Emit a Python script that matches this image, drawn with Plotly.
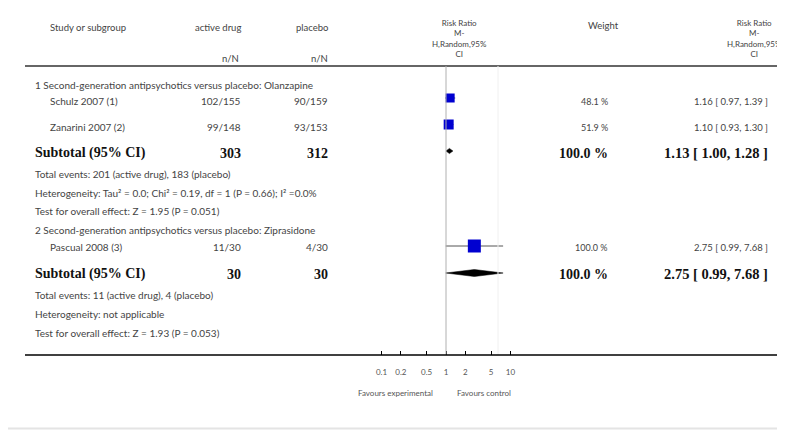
import plotly.graph_objects as go

# ---------------- data ----------------
group_titles = ["1 Second-generation antipsychotics versus placebo: Olanzapine",
                "2 Second-generation antipsychotics versus placebo: Ziprasidone"]
study_names = ["Schulz 2007 (1)", "Zanarini 2007 (2)", "Pascual 2008 (3)"]
active_events = [102, 99, 11]
active_total = [155, 148, 30]
placebo_events = [90, 93, 4]
placebo_total = [159, 153, 30]
study_rr = [1.16, 1.10, 2.75]
study_lo = [0.97, 0.93, 0.99]
study_hi = [1.39, 1.30, 7.68]
study_weight = [48.1, 51.9, 100.0]

sub_active_total = [303, 30]
sub_placebo_total = [312, 30]
sub_rr = [1.13, 2.75]
sub_lo = [1.00, 0.99]
sub_hi = [1.28, 7.68]
sub_weight = [100.0, 100.0]
sub_events_active = [201, 11]
sub_events_placebo = [183, 4]
heterogeneity = ["Heterogeneity: Tau\u00b2 = 0.0; Chi\u00b2 = 0.19, df = 1 (P = 0.66); I\u00b2 =0.0%",
                 "Heterogeneity: not applicable"]
overall_z = [1.95, 1.93]
overall_p = ["0.051", "0.053"]

tick_vals = [0.1, 0.2, 0.5, 1, 2, 5, 10]
tick_text = ["0.1", "0.2", "0.5", "1", "2", "5", "10"]

# ---------------- layout positions (window pixels) ----------------
WIN_W, WIN_H = 785, 430
OFF = 8                      # default page body margin
W, H = WIN_W - OFF, WIN_H - OFF

study_text_y = [101, 127, 247]
study_mark_y = [98, 124.5, 246]
study_msize = [9, 10, 13]
group_title_y = [85, 230]
sub_y = [153, 274]
sub_mark_y = [151, 273]
sub_half_h = [2.6, 3.5]
events_y = [174, 295]
het_y = [193, 314]
test_y = [211, 333]
HEAD_LINE_Y = 66
AXIS_Y = 355
X_ONE = 446.0
PX_PER_DEC = 64.5

x_lo_log = (OFF - X_ONE) / PX_PER_DEC
x_hi_log = (WIN_W - X_ONE) / PX_PER_DEC

def px(v):
    return (v - OFF) / W

SANS = "Lato, 'DejaVu Sans', sans-serif"
SERIF = "'Liberation Serif', 'DejaVu Serif', serif"
GRAY = "#444444"
BOLD_C = "#111111"

fig = go.Figure()
ann = []

def text(x, y, s, anchor="left", size=10, color=GRAY, font=SANS, align="left"):
    ann.append(dict(x=px(x), y=y, xref="paper", yref="y", text=s, showarrow=False,
                    xanchor=anchor, yanchor="middle", align=align,
                    font=dict(family=font, size=size, color=color)))

# headers
text(48, 27, "Study or subgroup", size=9.5)
text(243, 27, "active drug", "right", size=9.5)
text(330, 27, "placebo", "right", size=9.5)
text(241, 58, "n/N", "right", size=9.5)
text(330, 58, "n/N", "right", size=9.5)
text(459, 38, "Risk Ratio<br>M-<br>H,Random,95%<br>CI", "center", size=8, align="center")
text(603, 25, "Weight", "center", size=9.5)
text(784, 38, "Risk Ratio<br>M-<br>H,Random,95%<br>CI", "right", size=8, align="center")

# group titles
for g, t in enumerate(group_titles):
    text(33, group_title_y[g], t)

# studies
for i in range(len(study_names)):
    y = study_text_y[i]
    text(48, y, study_names[i])
    text(243, y, f"{active_events[i]}/{active_total[i]}", "right")
    text(330, y, f"{placebo_events[i]}/{placebo_total[i]}", "right")
    text(610, y, f"{study_weight[i]:.1f} %", "right", size=9)
    text(770, y, f"{study_rr[i]:.2f} [ {study_lo[i]:.2f}, {study_hi[i]:.2f} ]", "right", size=9.5)
    fig.add_trace(go.Scatter(x=[study_lo[i], study_hi[i]], y=[study_mark_y[i]] * 2, mode="lines",
                             line=dict(color="#555555", width=1), hoverinfo="skip", showlegend=False))
fig.add_trace(go.Scatter(x=study_rr, y=study_mark_y, mode="markers",
                         marker=dict(symbol="square", size=study_msize, color="#0000d0",
                                     opacity=1, line=dict(width=0)),
                         hoverinfo="skip", showlegend=False))

# subtotals
for g in range(2):
    y = sub_y[g]
    text(33, y, "<b>Subtotal (95% CI)</b>", size=14, color=BOLD_C, font=SERIF)
    text(243, y, f"<b>{sub_active_total[g]}</b>", "right", size=14, color=BOLD_C, font=SERIF)
    text(330, y, f"<b>{sub_placebo_total[g]}</b>", "right", size=14, color=BOLD_C, font=SERIF)
    text(610, y, f"<b>{sub_weight[g]:.1f} %</b>", "right", size=14, color=BOLD_C, font=SERIF)
    text(770, y, f"<b>{sub_rr[g]:.2f} [ {sub_lo[g]:.2f}, {sub_hi[g]:.2f} ]</b>", "right",
         size=14.5, color=BOLD_C, font=SERIF)
    text(33, events_y[g], f"Total events: {sub_events_active[g]} (active drug), {sub_events_placebo[g]} (placebo)")
    text(33, het_y[g], heterogeneity[g])
    text(33, test_y[g], f"Test for overall effect: Z = {overall_z[g]:.2f} (P = {overall_p[g]})")
    ym, hh = sub_mark_y[g], sub_half_h[g]
    fig.add_trace(go.Scatter(x=[sub_lo[g], sub_rr[g], sub_hi[g], sub_rr[g], sub_lo[g]],
                             y=[ym, ym - hh, ym, ym + hh, ym], mode="lines", fill="toself",
                             fillcolor="#000000", line=dict(color="#000000", width=0.5),
                             hoverinfo="skip", showlegend=False))

# favours labels
text(435, 393, "Favours experimental", "right", size=8, color="#555555")
text(455, 393, "Favours control", "left", size=8, color="#555555")

shapes = [
    dict(type="line", xref="paper", yref="y", x0=px(10), x1=1, y0=5, y1=5,
         line=dict(color="#000000", width=3)),
    dict(type="line", xref="paper", yref="y", x0=px(25), x1=px(778), y0=HEAD_LINE_Y, y1=HEAD_LINE_Y,
         line=dict(color="#333333", width=1.5)),
    dict(type="line", xref="paper", yref="y", x0=px(498), x1=px(498), y0=HEAD_LINE_Y, y1=AXIS_Y,
         line=dict(color="#f0f0f0", width=1)),
    dict(type="line", xref="x", yref="y", x0=1, x1=1, y0=HEAD_LINE_Y, y1=AXIS_Y,
         line=dict(color="#b0b0b0", width=1)),
    dict(type="line", xref="paper", yref="y", x0=px(25), x1=px(778), y0=AXIS_Y, y1=AXIS_Y,
         line=dict(color="#000000", width=1.5)),
    dict(type="line", xref="paper", yref="y", x0=0, x1=1, y0=428.5, y1=428.5,
         line=dict(color="#e4e4e4", width=2)),
]

fig.update_layout(
    width=W, height=H, margin=dict(l=0, r=0, t=0, b=0),
    paper_bgcolor="white", plot_bgcolor="white",
    annotations=ann, shapes=shapes, showlegend=False,
    xaxis=dict(type="log", range=[x_lo_log, x_hi_log], domain=[0, 1],
               anchor="free", position=1 - (AXIS_Y - OFF) / H,
               tickvals=tick_vals, ticktext=tick_text, ticks="inside", ticklen=4,
               tickcolor="#000000", tickwidth=1, showline=False, showgrid=False,
               zeroline=False, ticklabelstandoff=11,
               tickfont=dict(family=SANS, size=8, color="#555555")),
    yaxis=dict(range=[WIN_H, OFF], domain=[0, 1], visible=False, showgrid=False, zeroline=False),
)

fig.write_html("out.html")
